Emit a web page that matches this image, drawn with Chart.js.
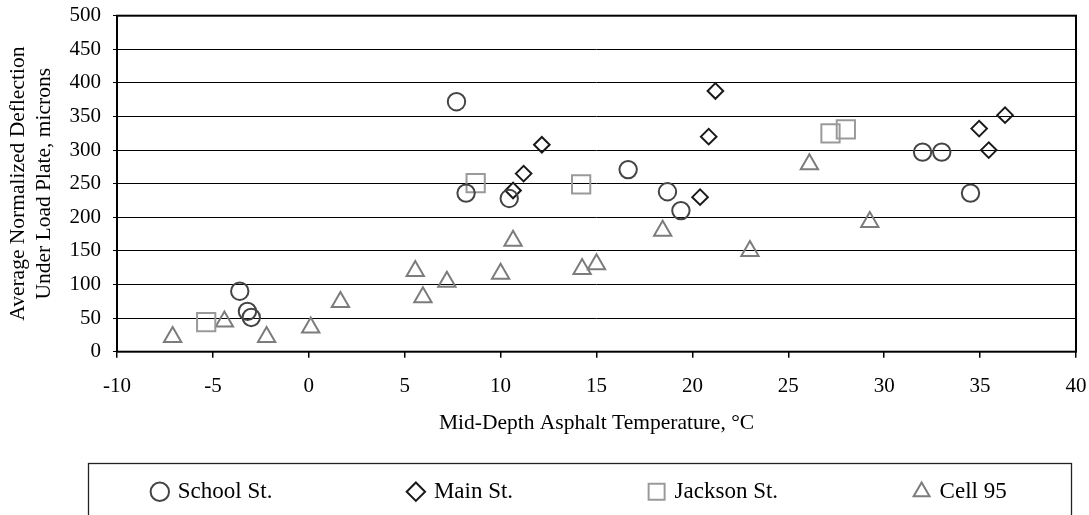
<!DOCTYPE html>
<html><head><meta charset="utf-8">
<script src="https://cdn.jsdelivr.net/npm/chart.js@4"></script>
<style>html,body{margin:0;padding:0;background:#fff;}canvas{display:block;}</style>
</head><body>
<canvas id="c" width="1089" height="515"></canvas>
<script>
const seriesNames = ['School St.', 'Main St.', 'Jackson St.', 'Cell 95'];
const schoolX = [-3.6, -3.2, -3.0, 7.7, 8.2, 10.45, 16.65, 18.7, 19.4, 32.0, 33.0, 34.5];
const schoolY = [90, 60, 51, 372, 236, 228, 271, 238, 210, 297, 297, 236];
const mainX = [10.65, 11.2, 12.15, 20.4, 20.85, 21.2, 34.95, 35.45, 36.3];
const mainY = [240, 265, 308, 230, 320, 388, 332, 300, 352];
const jacksonX = [-5.35, 8.7, 14.2, 27.2, 28.0];
const jacksonY = [44, 251, 249, 325, 331];
const cellX = [-7.1, -4.4, -2.2, 0.1, 1.65, 5.55, 5.95, 7.2, 10.0, 10.65, 14.25, 15.0, 18.45, 23.0, 26.1, 29.25];
const cellY = [22, 45, 22, 36, 74, 120, 81, 104, 116, 165, 123, 130, 180, 150, 279, 193];
const xTicks = [-10, -5, 0, 5, 10, 15, 20, 25, 30, 35, 40];
const yTicks = [0, 50, 100, 150, 200, 250, 300, 350, 400, 450, 500];
const xTitle = 'Mid-Depth Asphalt Temperature, °C';
const yTitle = ['Average Normalized Deflection', 'Under Load Plate, microns'];

const FONT = 'Liberation Serif, Times New Roman, serif';
const pts = (xs, ys) => xs.map((x, i) => ({x: x, y: ys[i]}));

// legend icon for the square series (slightly larger than the default legend square)
const squareIcon = document.createElement('canvas');
squareIcon.width = 20; squareIcon.height = 20;
(function () {
  const g = squareIcon.getContext('2d');
  g.strokeStyle = '#9a9a9a'; g.lineWidth = 2;
  g.strokeRect(2, 2, 16, 16);
})();

const framePlugin = {
  id: 'frame',
  afterLayout(chart) {
    const lg = chart.legend;
    if (!lg || !lg.lineWidths) return;
    lg.lineWidths = [lg.lineWidths.reduce((a, b) => a + b, 0)];
    const cx = 580, half = 640;
    lg.left = cx - half; lg.right = cx + half;
    const fs = lg.options.labels.font.size, pad = lg.options.labels.padding;
    lg.top = 491.7 - fs / 2 - pad;
    lg.bottom = 515;
  },
  beforeDatasetsDraw(chart) {
    const {ctx, chartArea: a} = chart;
    ctx.save();
    ctx.strokeStyle = '#000'; ctx.lineWidth = 2;
    ctx.strokeRect(a.left, a.top, a.right - a.left, a.bottom - a.top);
    ctx.restore();
  },
  afterDraw(chart) {
    const ctx = chart.ctx;
    ctx.save();
    ctx.strokeStyle = '#222'; ctx.lineWidth = 1.3;
    ctx.strokeRect(88.5, 463.5, 983, 80);
    ctx.restore();
  }
};

new Chart(document.getElementById('c'), {
  type: 'scatter',
  data: {
    datasets: [
      {label: seriesNames[0], data: pts(schoolX, schoolY), pointStyle: 'circle', pointRadius: 8.7,
       borderColor: '#444', backgroundColor: 'rgba(0,0,0,0)', pointBorderWidth: 2, borderWidth: 2},
      {label: seriesNames[1], data: pts(mainX, mainY), pointStyle: 'rectRot', pointRadius: 7.8,
       borderColor: '#1a1a1a', backgroundColor: 'rgba(0,0,0,0)', pointBorderWidth: 2, borderWidth: 2},
      {label: seriesNames[2], data: pts(jacksonX, jacksonY), pointStyle: 'rect', pointRadius: 12.9,
       borderColor: '#9a9a9a', backgroundColor: 'rgba(0,0,0,0)', pointBorderWidth: 2, borderWidth: 2},
      {label: seriesNames[3], data: pts(cellX, cellY), pointStyle: 'triangle', pointRadius: 10,
       borderColor: '#7c7c7c', backgroundColor: 'rgba(0,0,0,0)', pointBorderWidth: 2, borderWidth: 2}
    ]
  },
  options: {
    responsive: false,
    animation: false,
    devicePixelRatio: 1,
    layout: {autoPadding: false, padding: {top: 15.7, right: 13, bottom: 0, left: 0}},
    scales: {
      x: {
        type: 'linear', position: 'bottom', min: -10, max: 40,
        afterBuildTicks: s => { s.ticks = xTicks.map(v => ({value: v})); },
        afterFit: s => { s.height = 111.3; },
        ticks: {color: '#000', font: {family: FONT, size: 21, lineHeight: 54 / 21}, padding: 2},
        grid: {drawOnChartArea: false, drawTicks: true, tickLength: 6, color: '#000', lineWidth: 1.5},
        border: {display: false},
        title: {display: true, text: xTitle, color: '#000', font: {family: FONT, size: 21.5},
                padding: {top: 0, bottom: 27.1}}
      },
      y: {
        type: 'linear', position: 'left', min: 0, max: 500,
        afterBuildTicks: s => { s.ticks = yTicks.map(v => ({value: v})); },
        afterFit: s => { s.width = 117; },
        ticks: {color: '#000', font: {family: FONT, size: 21, lineHeight: 0.3}, padding: 12},
        grid: {color: '#000', lineWidth: 1, drawTicks: true, tickLength: 4},
        border: {display: false},
        title: {display: true, text: yTitle, color: '#000', font: {family: FONT, size: 21.5},
                padding: {top: 5.6, bottom: 0}}
      }
    },
    plugins: {
      tooltip: {enabled: false},
      legend: {
        display: true, position: 'bottom', maxHeight: 52,
        labels: {
          usePointStyle: true, boxWidth: 13, boxHeight: 13, padding: 137,
          color: '#000', font: {family: FONT, size: 23},
          generateLabels: chart => {
            const items = Chart.defaults.plugins.legend.labels.generateLabels(chart);
            items.forEach(it => { if (it.text === seriesNames[2]) it.pointStyle = squareIcon; });
            return items;
          }
        }
      }
    }
  },
  plugins: [framePlugin]
});
</script>
</body></html>
